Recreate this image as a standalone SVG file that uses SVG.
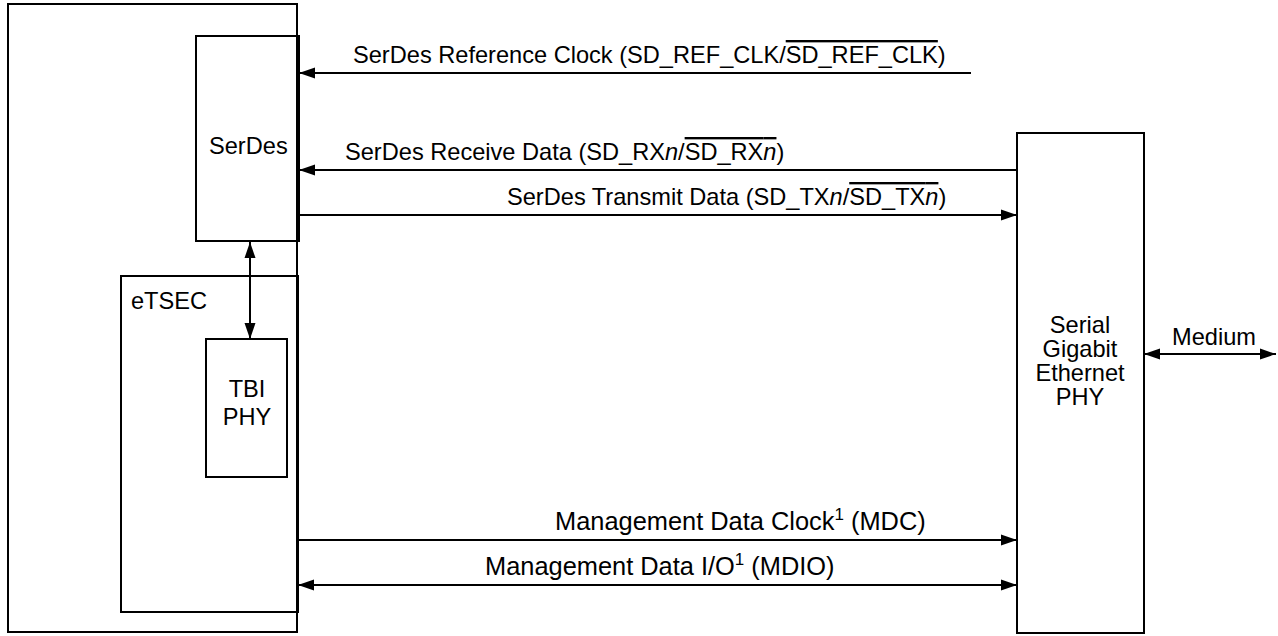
<svg xmlns="http://www.w3.org/2000/svg" width="1278" height="636" viewBox="0 0 1278 636">
<style>
.box{fill:none;stroke:#000;stroke-width:2}
.ln{fill:none;stroke:#000;stroke-width:2}
text{font-family:"Liberation Sans",Arial,sans-serif;font-size:23.6px;fill:#000}
.mg{font-size:25.4px}
.ov{text-decoration:overline}
.it{font-style:italic}
.sup{font-size:17px}
</style>
<defs>
<marker id="ah" markerUnits="userSpaceOnUse" markerWidth="17" markerHeight="12" refX="16" refY="6" orient="auto-start-reverse" viewBox="0 0 17 12">
<path d="M0,0.5 L16,6 L0,11.5 Z" fill="#000"/>
</marker>
</defs>
<rect width="1278" height="636" fill="#fff"/>
<g id="outer"><rect class="box" x="8" y="4" width="289" height="628"/></g>
<g id="serdes"><rect class="box" x="196" y="36" width="103" height="205"/><text x="209" y="154">SerDes</text></g>
<g id="etsec"><rect class="box" x="121" y="276" width="177" height="336"/><text x="131" y="309">eTSEC</text></g>
<g id="tbi"><rect class="box" x="206" y="339" width="81" height="138"/><text x="247" y="397" text-anchor="middle">TBI</text><text x="247" y="425" text-anchor="middle">PHY</text></g>
<g id="phy"><rect class="box" x="1017" y="133" width="127" height="500"/>
<text x="1080" y="333" text-anchor="middle">Serial</text>
<text x="1080" y="357" text-anchor="middle">Gigabit</text>
<text x="1080" y="381" text-anchor="middle">Ethernet</text>
<text x="1080" y="405" text-anchor="middle">PHY</text></g>
<g id="connectors">
<line class="ln" x1="971" y1="73" x2="299" y2="73" marker-end="url(#ah)"/>
<line class="ln" x1="1017" y1="170" x2="299" y2="170" marker-end="url(#ah)"/>
<line class="ln" x1="299" y1="215" x2="1017" y2="215" marker-end="url(#ah)"/>
<line class="ln" x1="250" y1="242" x2="250" y2="339" marker-start="url(#ah)" marker-end="url(#ah)"/>
<line class="ln" x1="298" y1="540" x2="1017" y2="540" marker-end="url(#ah)"/>
<line class="ln" x1="298" y1="585" x2="1017" y2="585" marker-start="url(#ah)" marker-end="url(#ah)"/>
<line class="ln" x1="1144" y1="354" x2="1276" y2="354" marker-start="url(#ah)" marker-end="url(#ah)"/>
</g>
<g id="labels">
<text x="353" y="63">SerDes Reference Clock (SD_REF_CLK/<tspan class="ov">SD_REF_CLK</tspan>)</text>
<text x="345" y="160">SerDes Receive Data (SD_RX<tspan class="it">n</tspan>/<tspan class="ov">SD_RX<tspan class="it">n</tspan></tspan>)</text>
<text x="507" y="205">SerDes Transmit Data (SD_TX<tspan class="it">n</tspan>/<tspan class="ov">SD_TX<tspan class="it">n</tspan></tspan>)</text>
<text class="mg" x="555" y="530">Management Data Clock<tspan class="sup" dy="-10">1</tspan><tspan dy="10"> (MDC)</tspan></text>
<text class="mg" x="485" y="575">Management Data I/O<tspan class="sup" dy="-10">1</tspan><tspan dy="10"> (MDIO)</tspan></text>
<text x="1172" y="345">Medium</text>
</g>
</svg>
